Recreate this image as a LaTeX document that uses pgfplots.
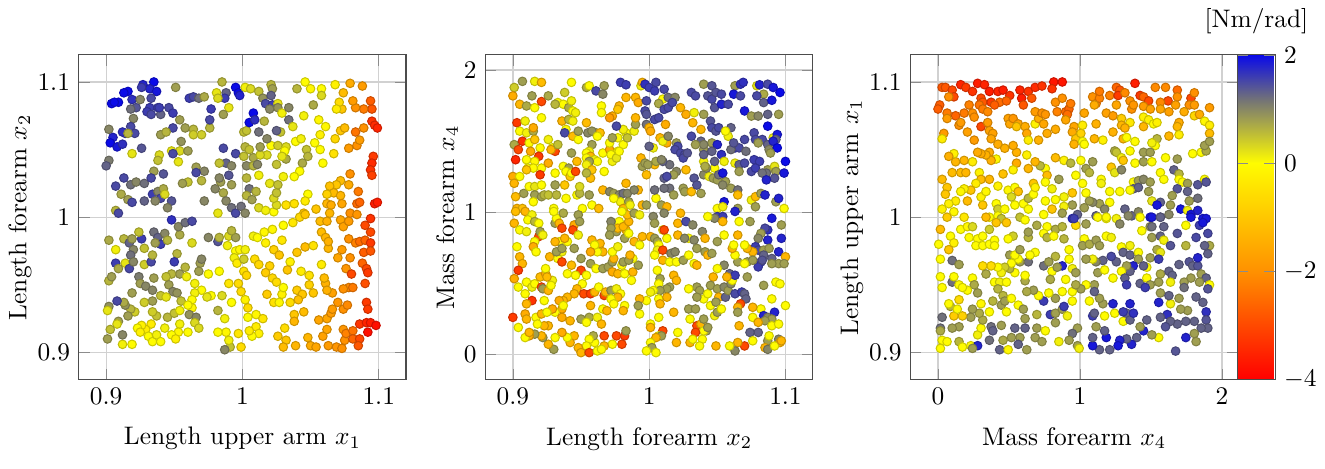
\documentclass[border=0pt]{standalone}
\usepackage{pgfplots}
\usepackage{pgfplotstable}
\pgfplotsset{compat=1.18}
\pgfplotstableread{
x y c
0.935 1.100 2
0.927 1.098 1.8
0.932 1.095 1.8
0.937 1.093 1.9
0.916 1.093 2
0.913 1.092 2
0.926 1.096 1.6
0.919 1.087 1.7
0.909 1.085 2
0.904 1.084 2
0.906 1.085 2
0.925 1.087 1.0
0.933 1.088 1.5
0.922 1.081 1.4
0.932 1.081 1.6
0.938 1.081 1.6
0.918 1.080 1.2
0.930 1.078 1.6
0.933 1.076 1.5
0.920 1.073 1.0
0.918 1.067 1.5
0.914 1.062 1.6
0.912 1.063 1.7
0.902 1.065 1.0
0.905 1.059 1.8
0.903 1.055 2
0.908 1.052 1.9
0.912 1.054 1.7
0.921 1.062 1.5
0.916 1.062 0.6
0.926 1.051 1.4
0.919 1.047 0.2
0.902 1.042 1.1
0.900 1.038 1.3
0.907 1.023 1.5
0.913 1.029 1.5
0.918 1.024 1.2
0.922 1.026 1.0
0.928 1.025 1.2
0.911 1.017 0.7
0.916 1.013 0.8
0.919 1.011 1.5
0.928 1.012 1.3
0.907 1.005 0.6
0.909 1.003 1.5
0.934 1.017 1.6
0.938 1.019 1.0
0.940 1.014 1.5
0.942 1.021 0.7
0.943 1.017 0.3
0.936 1.012 1.0
0.948 1.012 1.4
0.945 1.007 1.0
0.942 1.032 1.4
0.935 1.034 0.8
0.933 1.029 1.5
0.946 1.081 1.5
0.949 1.077 1.6
0.940 1.076 1.3
0.939 1.081 1.6
0.951 1.096 0.8
0.954 1.072 0.8
0.949 1.066 1.5
0.958 1.066 0.8
0.964 1.065 0.6
0.961 1.088 1.6
0.964 1.089 1.5
0.968 1.088 1.2
0.972 1.089 0.7
0.940 1.061 0.8
0.944 1.063 0.6
0.955 1.056 0.9
0.964 1.061 0.4
0.970 1.061 0.4
0.976 1.066 0.6
0.976 1.072 1.5
0.977 1.080 1.6
0.948 1.049 0.2
0.954 1.049 0.3
0.960 1.049 0.8
0.949 1.047 1.5
0.939 1.046 0.3
0.953 1.041 0.2
0.938 1.042 0.5
0.966 1.037 0.8
0.972 1.034 1.0
0.966 1.033 1.5
0.960 1.026 0.5
0.956 1.025 0.8
0.970 1.027 0.6
0.980 1.021 1.0
0.984 1.026 0.8
0.983 1.029 1.0
0.986 1.051 1.5
0.995 1.047 1.5
0.988 1.040 1.3
0.983 1.040 0.5
0.992 1.038 1.0
0.990 1.031 1.4
0.992 1.024 0.8
0.986 1.018 0.7
0.988 1.012 1.0
0.992 1.007 1.2
0.995 1.003 1.5
0.982 1.003 0.2
0.972 1.012 1.0
1.001 1.063 0.5
1.003 1.064 0.5
1.002 1.052 0.6
1.005 1.050 0.5
1.001 1.045 0.5
1.008 1.044 0.7
1.003 1.038 1.0
1.008 1.038 0.6
1.011 1.039 1.0
1.012 1.031 0.1
1.003 1.029 0.6
1.005 1.021 1.2
1.010 1.019 0.6
1.003 1.016 0.6
1.007 1.013 0.8
1.012 1.007 0.3
0.999 1.008 1.2
1.002 1.003 1.0
1.017 1.005 0.1
1.023 1.004 0.0
1.025 1.009 0.3
1.023 1.014 0.3
1.025 1.018 0.5
1.020 1.025 0.2
1.026 1.024 0.5
1.032 1.043 0.7
1.025 1.039 0.5
1.018 1.046 0.3
1.013 1.046 0.3
1.013 1.052 0.8
1.021 1.053 0.0
1.026 1.053 0.4
1.032 1.052 0.3
1.031 1.049 0.0
1.029 1.045 0.2
1.018 1.058 1.0
1.012 1.063 1.2
1.016 1.071 0.6
1.008 1.077 2.0
1.005 1.070 2.0
1.009 1.072 1.7
0.995 1.096 2.0
0.997 1.092 2
0.998 1.090 1.8
0.988 1.092 1.3
0.987 1.088 1.6
0.985 1.100 0.6
0.981 1.092 0.2
0.982 1.088 0.3
0.990 1.081 0.2
0.986 1.076 0.8
1.002 1.096 0.1
1.006 1.095 0.3
1.012 1.093 0.5
1.015 1.088 0.9
1.017 1.084 1.5
1.021 1.098 0.6
1.022 1.095 0.8
1.021 1.090 1.3
1.022 1.083 1.6
1.020 1.080 1.0
1.026 1.084 0.2
1.026 1.081 0.9
1.029 1.077 0.1
1.034 1.081 1.0
1.034 1.072 1.2
1.037 1.067 0.2
1.028 1.063 0.5
1.025 1.064 1.3
1.039 1.056 0.0
1.043 1.058 0.1
1.047 1.050 0.5
1.048 1.045 0.6
1.044 1.040 0.7
1.042 1.034 0.0
1.038 1.030 0.0
1.030 1.030 0.1
1.040 1.095 0.6
1.046 1.100 0.0
1.050 1.095 -0.1
1.058 1.095 0.0
1.058 1.090 0.3
1.052 1.083 0.7
1.045 1.075 0.1
1.056 1.072 -0.1
1.061 1.067 -0.1
1.057 1.061 -0.2
1.053 1.055 0.0
1.057 1.050 0.0
1.059 1.040 0.0
1.067 1.047 -0.5
1.068 1.058 -0.7
1.072 1.064 -1.0
1.075 1.066 -1.2
1.078 1.051 -1.8
1.084 1.053 -2.0
1.086 1.057 -1.8
1.083 1.063 -2.4
1.089 1.066 -2.0
1.095 1.071 -3.3
1.097 1.068 -3.4
1.099 1.066 -3.5
1.095 1.080 -2.8
1.094 1.086 -2.7
1.089 1.080 -2.3
1.083 1.081 -2.0
1.081 1.086 -1.8
1.073 1.080 -1.0
1.071 1.085 -0.6
1.069 1.080 -0.3
1.068 1.098 -0.2
1.079 1.099 -1.5
1.088 1.097 -1.8
1.074 1.092 -1.2
1.096 1.045 -3.2
1.095 1.040 -3.4
1.094 1.035 -3.3
1.095 1.031 -3.1
1.079 1.032 -2.0
1.072 1.027 -1.2
1.069 1.024 -1.0
1.064 1.023 -1.1
1.078 1.024 -1.5
1.067 1.018 -1.2
1.072 1.016 -1.3
1.062 1.017 -0.8
1.085 1.019 -2.3
1.062 1.010 -1.3
1.065 1.009 -1.5
1.073 1.010 -1.6
1.079 1.003 -2.0
1.084 1.010 -2.5
1.086 1.011 -2.6
1.097 1.010 -3.6
1.099 1.011 -3.6
1.048 1.017 0.0
1.046 1.012 -0.3
1.038 1.010 -0.5
1.032 1.009 -0.5
1.045 1.003 -1.0
1.054 1.006 -1.0
1.064 1.003 -1.3
0.902 0.983 0.7
0.907 0.976 0.1
0.913 0.984 0.6
0.917 0.981 1.3
0.919 0.984 0.8
0.926 0.984 1.6
0.924 0.989 0.5
0.920 0.976 1.0
0.918 0.972 1.2
0.907 0.966 1.6
0.914 0.966 0.2
0.917 0.962 1.5
0.920 0.967 1.0
0.909 0.962 0.7
0.902 0.953 0.6
0.904 0.956 0.8
0.924 0.956 1.1
0.928 0.965 0.4
0.933 0.967 1.5
0.934 0.972 0.6
0.928 0.977 0.5
0.935 0.989 1.2
0.938 0.985 1.3
0.940 0.980 1.6
0.943 0.988 1.0
0.936 0.981 0.8
0.945 0.983 0.6
0.948 0.998 1.7
0.954 0.987 0.7
0.953 0.993 1.0
0.958 0.996 1.2
0.963 0.997 1.5
0.963 0.981 0.3
0.952 0.973 0.6
0.950 0.967 1.6
0.958 0.963 0.6
0.954 0.958 0.8
0.948 0.958 0.6
0.944 0.956 0.5
0.935 0.955 0.8
0.925 0.951 0.8
0.929 0.949 1.0
0.934 0.946 1.0
0.940 0.942 0.5
0.946 0.950 0.8
0.949 0.945 1.0
0.952 0.944 0.9
0.944 0.941 0.2
0.959 0.956 0.1
0.965 0.951 0.1
0.969 0.966 0.8
0.968 0.960 0.8
0.970 0.969 1.0
0.975 0.985 1.0
0.982 0.982 1.4
0.983 0.985 0.6
0.990 0.986 0.3
0.995 0.985 0.8
0.992 0.990 0.6
0.989 0.979 0.1
0.995 0.975 0.0
0.998 0.976 -0.1
1.002 0.976 0.1
0.994 0.970 0.1
0.996 0.966 -0.3
1.001 0.969 0.4
0.975 0.958 0.0
0.983 0.960 0.0
0.990 0.951 -0.4
0.997 0.951 -0.6
1.001 0.960 -0.5
1.003 0.957 -0.7
0.999 0.945 -0.6
1.002 0.939 -0.2
1.004 0.933 -0.6
1.004 0.926 0.0
1.010 0.928 -0.1
1.015 0.925 -0.4
1.010 0.919 -0.3
1.012 0.914 -0.2
1.007 0.912 0.0
1.005 0.916 -0.3
0.997 0.914 -0.4
0.999 0.904 -0.6
0.991 0.904 0.5
0.987 0.902 1.0
0.990 0.909 0.1
0.988 0.915 -0.1
0.982 0.915 0.0
0.982 0.931 0.6
0.987 0.925 0.1
0.992 0.937 0.0
0.985 0.942 0.3
0.977 0.942 0.0
0.974 0.941 0.2
0.970 0.946 0.0
0.965 0.944 0.1
0.963 0.939 0.0
0.963 0.933 -0.1
0.961 0.928 0.9
0.966 0.926 1.0
0.965 0.922 0.3
0.968 0.918 0.3
0.960 0.915 0.0
0.954 0.921 0.1
0.953 0.915 -0.1
0.948 0.913 0.0
0.951 0.910 -0.2
0.943 0.918 0.1
0.945 0.926 0.6
0.950 0.929 0.5
0.954 0.931 0.1
0.955 0.938 0.5
0.960 0.935 0.0
0.937 0.927 0.5
0.934 0.930 0.4
0.933 0.921 -0.3
0.929 0.917 -0.3
0.926 0.920 -0.2
0.923 0.918 0.0
0.925 0.915 -0.2
0.931 0.912 0.0
0.934 0.908 0.0
0.937 0.913 0.1
0.940 0.908 0.0
0.919 0.906 0.0
0.912 0.906 0.1
0.921 0.930 0.4
0.918 0.932 0.6
0.916 0.927 0.8
0.909 0.923 0.8
0.908 0.921 0.2
0.903 0.917 0.5
0.901 0.910 0.8
0.912 0.913 1.0
0.914 0.935 0.9
0.913 0.937 0.7
0.908 0.938 1.5
0.902 0.934 0.9
0.901 0.931 0.2
0.919 0.944 0.8
0.934 0.938 0.8
0.928 0.937 0.4
1.022 0.991 -0.1
1.030 0.994 0.0
1.037 0.996 -0.4
1.042 1.000 -0.7
1.046 1.002 -1.0
1.016 0.989 -0.1
1.029 0.983 -0.4
1.008 0.986 0.1
1.011 0.985 0.0
1.017 0.981 -0.2
1.023 0.976 -0.8
1.027 0.972 -1.0
1.009 0.969 -0.6
1.012 0.965 -0.7
1.020 0.964 -0.8
1.017 0.959 -0.9
1.022 0.955 -0.7
1.025 0.952 -0.6
1.018 0.943 -0.9
1.023 0.937 -0.5
1.029 0.943 -0.2
1.030 0.948 0.0
1.027 0.937 -0.1
1.035 0.937 -0.6
1.040 0.946 -0.9
1.044 0.943 -1.0
1.041 0.939 -1.1
1.035 0.967 -0.2
1.033 0.961 -1.0
1.043 0.960 -0.3
1.049 0.957 -0.5
1.040 0.974 -1.0
1.046 0.978 -1.2
1.052 0.979 -0.5
1.038 0.928 -1.0
1.045 0.930 -1.2
1.038 0.923 -1.3
1.031 0.918 -0.6
1.026 0.912 -0.9
1.032 0.909 -1.0
1.030 0.904 -1.2
1.039 0.905 -1.3
1.048 0.911 -1.3
1.050 0.905 -1.5
1.054 0.904 -1.6
1.059 0.912 -1.7
1.062 0.917 -1.6
1.063 0.905 -1.8
1.069 0.904 -1.9
1.073 0.903 -2.0
1.075 0.909 -2.0
1.074 0.917 -1.9
1.076 0.914 -2.2
1.081 0.916 -2.4
1.081 0.910 -2.6
1.086 0.910 -3.0
1.085 0.905 -2.8
1.086 0.921 -3.3
1.091 0.922 -3.5
1.094 0.922 -3.6
1.098 0.920 -3.8
1.092 0.915 -3.8
1.056 0.924 -1.6
1.062 0.925 -1.6
1.065 0.929 -1.8
1.066 0.932 -1.8
1.074 0.932 -2.0
1.070 0.937 -1.9
1.066 0.944 -1.7
1.077 0.935 -2.1
1.078 0.948 -2.1
1.081 0.948 -2.3
1.074 0.947 -2.0
1.090 0.951 -2.9
1.091 0.937 -3.2
1.092 0.932 -3.2
1.061 0.951 -1.4
1.062 0.946 -1.4
1.060 0.955 -1.2
1.049 0.950 -0.8
1.052 0.944 -1.0
1.058 0.965 -0.3
1.063 0.977 -1.3
1.058 0.989 -1.2
1.061 0.985 -1.3
1.063 0.982 -1.4
1.057 0.997 -1.2
1.062 0.997 -1.4
1.072 0.998 -1.6
1.074 0.993 -1.7
1.078 0.997 -1.8
1.084 1.002 -1.9
1.078 0.984 -2.0
1.083 0.981 -2.2
1.086 0.982 -2.5
1.090 0.983 -2.6
1.094 0.981 -3.2
1.094 0.989 -3.0
1.090 0.994 -3.0
1.089 0.974 -2.7
1.094 0.975 -2.8
1.073 0.976 -1.8
1.079 0.970 -2.0
1.070 0.970 -1.6
1.076 0.962 -1.9
1.088 0.966 -2.6
1.091 0.962 -3.0
1.092 0.959 -3.2
1.080 0.958 -3.0
1.094 0.999 -3.3
}\dataA
\pgfplotstableread{
x y c
0.901 1.877 0.4
0.907 1.920 0.8
0.916 1.920 0.1
0.921 1.913 -1.2
0.900 1.818 -1.5
0.914 1.818 0.8
0.905 1.759 -1.3
0.910 1.747 0.7
0.916 1.735 0.0
0.921 1.778 -3.0
0.926 1.818 0.7
0.921 1.664 0.0
0.903 1.629 -3.2
0.909 1.641 0.1
0.905 1.570 0.0
0.910 1.558 0.1
0.915 1.570 0.7
0.915 1.594 -1.5
0.901 1.475 0.7
0.907 1.499 -3.3
0.912 1.487 0.0
0.916 1.511 -1.0
0.904 1.440 -3.0
0.913 1.428 -1.5
0.920 1.452 0.0
0.926 1.511 0.1
0.919 1.393 -3.2
0.902 1.369 -3.5
0.910 1.369 0.0
0.916 1.357 -0.1
0.911 1.310 0.0
0.915 1.310 0.0
0.921 1.310 0.0
0.910 1.298 -1.0
0.920 1.263 -3.2
0.900 1.251 -1.5
0.905 1.251 0.0
0.901 1.203 -1.3
0.908 1.132 0.8
0.912 1.180 0.0
0.916 1.180 0.2
0.921 1.191 0.0
0.916 1.121 0.8
0.902 1.109 -1.2
0.903 1.026 -1.3
0.907 1.026 -1.1
0.915 1.073 0.0
0.921 1.109 0.8
0.923 1.121 0.6
0.926 1.121 0.5
0.930 1.026 0.0
0.926 1.345 -1.5
0.929 1.452 0.0
0.931 1.428 -3.0
0.928 1.440 -1.3
0.933 1.475 0.5
0.931 1.275 0.0
0.931 1.191 0.8
0.932 1.121 0.6
0.939 1.097 0.0
0.938 1.191 -1.0
0.937 1.322 0.0
0.941 1.310 0.8
0.939 1.286 0.0
0.942 1.251 -1.0
0.943 1.275 0.0
0.946 1.286 -3.0
0.943 1.913 0.0
0.938 1.842 0.4
0.933 1.771 0.0
0.937 1.759 0.0
0.931 1.759 0.6
0.941 1.735 0.7
0.943 1.783 0.1
0.944 1.712 0.0
0.946 1.700 0.1
0.936 1.641 -1.3
0.941 1.652 0.6
0.944 1.641 0.1
0.939 1.582 0.0
0.938 1.558 1.5
0.944 1.534 -1.2
0.948 1.511 0.0
0.948 1.570 0.8
0.943 1.416 0.8
0.947 1.357 -1.2
0.954 1.629 -1.2
0.955 1.558 1.0
0.954 1.877 0.7
0.956 1.889 0.0
0.961 1.853 1.5
0.967 1.889 0.8
0.966 1.830 1.0
0.965 1.747 0.0
0.965 1.700 0.0
0.961 1.558 0.8
0.958 1.570 0.9
0.964 1.558 -1.2
0.962 1.534 0.0
0.958 1.475 0.8
0.956 1.428 0.1
0.954 1.416 0.0
0.957 1.393 -1.3
0.954 1.381 0.0
0.960 1.369 0.1
0.962 1.357 0.0
0.956 1.357 0.8
0.954 1.334 0.1
0.958 1.298 -1.0
0.966 1.416 0.0
0.971 1.440 -1.5
0.967 1.286 0.0
0.973 1.357 0.1
0.977 1.428 0.0
0.972 1.405 0.0
0.976 1.381 0.2
0.981 1.475 0.0
0.978 1.428 0.0
0.983 1.558 0.0
0.981 1.582 0.1
0.977 1.523 0.0
0.971 1.487 0.0
0.973 1.523 0.8
0.984 1.523 0.5
0.989 1.570 0.1
0.990 1.617 0.8
0.976 1.605 1.5
0.973 1.676 -1.5
0.971 1.664 -1.8
0.978 1.747 -1.3
0.977 1.723 -1.0
0.983 1.807 -1.3
0.990 1.807 -1.3
0.992 1.771 -1.5
0.990 1.664 -1.3
0.979 1.913 1.6
0.983 1.896 1.6
0.994 1.889 0.1
0.995 1.913 -1.3
0.997 1.900 1.7
1.000 1.877 1.6
1.005 1.913 1.5
1.004 1.853 1.6
1.011 1.865 1.5
1.010 1.795 0.0
1.007 1.764 0.7
1.014 1.807 1.2
1.019 1.807 1.0
0.998 1.783 1.5
0.997 1.712 1.5
0.998 1.688 1.4
1.004 1.652 1.5
1.007 1.664 1.5
1.011 1.723 1.5
1.014 1.735 1.5
1.017 1.771 1.5
0.998 1.617 1.2
1.000 1.594 -1.3
1.001 1.570 -1.5
1.012 1.617 -1.5
1.008 1.523 -1.3
1.013 1.487 -1.5
1.010 1.499 0.1
1.014 1.534 1.0
1.020 1.487 0.8
1.023 1.735 -1.3
1.027 1.688 -1.5
1.032 1.629 -1.3
1.033 1.700 0.1
1.040 1.688 0.8
1.031 1.842 1.5
1.034 1.818 1.5
1.040 1.900 0.8
1.046 1.889 1.4
1.043 1.818 1.4
1.046 1.795 1.5
1.048 1.735 1.4
1.049 1.842 1.4
1.053 1.830 1.5
1.053 1.759 1.8
1.058 1.759 1.5
1.063 1.889 0.8
1.062 1.830 1.9
1.067 1.818 1.5
1.067 1.900 1.7
1.069 1.913 1.7
1.079 1.889 0.2
1.081 1.896 1.8
1.084 1.830 0.7
1.087 1.900 1.5
1.091 1.877 1.9
1.096 1.842 2.0
1.079 1.818 1.5
1.070 1.712 1.9
1.075 1.676 0.8
1.080 1.676 1.0
1.084 1.771 1.3
1.090 1.787 1.9
1.087 1.688 1.3
1.095 1.688 0.8
1.045 1.641 1.4
1.046 1.594 1.5
1.049 1.570 1.4
1.051 1.594 1.5
1.060 1.594 1.3
1.038 1.582 -1.3
1.038 1.499 1.3
1.040 1.440 0.8
1.046 1.487 0.8
1.040 1.475 1.0
1.031 1.534 1.5
1.021 1.463 1.5
1.019 1.440 1.5
1.023 1.416 1.5
1.026 1.405 1.5
1.025 1.381 1.5
1.028 1.416 1.4
1.027 1.298 -1.2
1.020 1.286 1.0
1.018 1.263 0.8
1.015 1.334 1.2
1.010 1.357 1.3
1.011 1.239 1.3
1.013 1.251 1.5
1.004 1.334 -1.2
0.998 1.263 -1.2
1.003 1.452 0.1
1.000 1.463 1.3
0.995 1.322 0.8
0.994 1.381 -1.3
0.997 1.345 0.8
0.999 1.334 0.8
1.005 1.357 0.7
1.009 1.369 1.0
0.992 1.156 -1.3
0.995 1.050 -1.3
0.998 1.050 0.8
1.005 1.097 0.0
1.009 1.050 0.8
1.013 1.038 -1.3
1.015 1.168 1.2
1.025 1.168 0.8
1.026 1.144 0.8
1.031 1.144 -1.2
1.038 1.132 0.8
1.033 1.239 1.4
1.035 1.191 1.4
1.040 1.263 1.0
1.044 1.251 0.1
1.047 1.239 0.8
1.050 1.227 0.8
1.048 1.310 0.0
1.040 1.357 0.1
1.048 1.357 1.3
1.051 1.263 1.2
1.056 1.215 0.8
1.054 1.191 1.0
1.060 1.168 0.8
1.065 1.156 1.2
1.065 1.121 -1.2
1.055 1.073 1.9
1.050 1.026 0.0
1.054 1.038 0.1
1.065 1.026 0.8
1.075 1.085 0.1
1.078 1.109 -1.2
1.082 1.132 0.8
1.078 1.038 0.8
1.085 1.121 1.8
1.093 1.073 0.8
1.095 1.097 1.8
1.099 1.026 0.0
1.054 1.275 1.9
1.063 1.345 0.1
1.066 1.334 1.3
1.070 1.345 1.5
1.077 1.369 1.6
1.081 1.357 1.6
1.075 1.286 1.5
1.078 1.310 1.6
1.087 1.298 0.8
1.086 1.275 1.2
1.083 1.275 1.2
1.092 1.322 0.2
1.093 1.286 0.8
1.099 1.275 1.9
1.100 1.357 2.0
1.092 1.239 1.4
1.086 1.227 1.8
1.063 1.452 1.7
1.066 1.452 1.5
1.070 1.511 1.5
1.077 1.558 1.5
1.078 1.511 1.5
1.083 1.511 1.5
1.080 1.487 0.8
1.087 1.475 1.3
1.088 1.440 1.0
1.087 1.605 2.0
1.091 1.523 0.1
1.094 1.546 1.9
1.093 1.511 1.3
1.091 1.499 1.8
1.094 1.452 2.0
1.089 1.416 0.8
1.071 1.428 1.2
1.060 1.440 1.2
1.058 1.534 0.1
1.056 1.570 0.0
1.050 1.475 1.8
1.053 1.405 1.7
1.046 1.428 1.3
1.055 1.357 0.1
1.042 1.310 1.0
1.066 1.286 0.8
1.062 1.487 1.4
1.041 1.322 0.7
1.034 1.475 0.8
1.040 1.405 1.3
1.004 1.156 1.2
1.011 1.168 1.2
1.018 1.121 0.8
0.966 1.156 -1.3
0.971 1.144 1.0
0.974 1.132 0.8
0.978 1.121 1.0
0.981 1.132 1.2
0.984 1.132 1.0
0.989 1.156 1.0
0.983 1.203 -1.3
0.979 1.073 0.1
0.985 1.073 0.8
0.974 1.097 0.0
0.981 1.026 -1.3
0.986 1.050 0.1
0.956 1.121 0.8
0.958 1.050 0.0
0.963 1.026 -1.2
0.951 1.026 0.0
0.947 1.121 0.0
0.949 1.132 0.6
0.957 1.239 -1.2
0.954 1.275 0.6
0.949 1.180 0.3
0.902 1.005 -1.2
0.909 1.005 -1.3
0.914 0.981 0.1
0.911 0.946 0.0
0.901 0.922 -1.3
0.905 0.875 0.0
0.910 0.863 0.1
0.916 0.934 0.6
0.919 0.922 0.0
0.919 0.828 -3.0
0.920 0.863 0.8
0.916 0.793 0.0
0.922 0.839 0.1
0.903 0.757 0.0
0.905 0.686 -1.3
0.907 0.638 -1.3
0.915 0.757 -1.5
0.917 0.721 0.0
0.904 0.591 -3.2
0.901 0.532 -1.5
0.904 0.473 0.0
0.910 0.508 0.0
0.914 0.473 0.1
0.916 0.496 0.0
0.920 0.544 -1.2
0.924 0.567 -1.5
0.924 0.603 0.0
0.921 0.473 -3.0
0.922 0.461 0.8
0.909 0.426 0.0
0.914 0.378 -3.3
0.910 0.355 -1.3
0.900 0.260 -3.2
0.909 0.284 -1.5
0.910 0.248 -1.3
0.917 0.260 0.0
0.923 0.378 0.0
0.926 0.449 -1.3
0.929 0.520 0.1
0.928 0.485 0.0
0.925 0.544 -1.2
0.927 0.686 -1.3
0.933 0.674 0.0
0.936 0.721 0.1
0.932 0.721 0.8
0.934 0.792 0.0
0.931 0.792 -1.3
0.936 0.650 -3.0
0.936 0.745 0.8
0.940 0.793 0.0
0.938 0.816 -1.3
0.931 0.922 0.8
0.932 0.957 0.0
0.930 1.005 0.0
0.937 0.993 0.7
0.934 0.922 -1.3
0.936 0.887 -3.0
0.945 0.910 -1.5
0.948 0.981 0.8
0.949 0.934 0.8
0.944 0.875 -3.0
0.948 0.839 0.1
0.945 0.745 0.8
0.950 0.674 0.8
0.943 0.627 -1.2
0.950 0.591 -3.0
0.946 0.556 0.0
0.940 0.567 0.0
0.954 0.556 0.0
0.951 0.496 0.0
0.947 0.461 -1.3
0.945 0.426 -1.3
0.940 0.402 -1.3
0.937 0.378 -1.3
0.934 0.378 -1.5
0.936 0.319 -1.5
0.937 0.343 0.0
0.931 0.296 0.0
0.929 0.319 -1.5
0.936 0.260 -1.5
0.942 0.236 -1.3
0.950 0.248 0.8
0.956 0.260 0.7
0.954 0.225 0.0
0.952 0.426 -3.0
0.957 0.426 -3.2
0.960 0.438 -1.3
0.957 0.343 -1.3
0.963 0.473 0.0
0.967 0.414 -3.0
0.968 0.438 -1.3
0.972 0.449 0.8
0.976 0.461 0.1
0.979 0.426 0.0
0.977 0.402 -1.3
0.972 0.390 0.0
0.966 0.319 0.0
0.969 0.307 -1.3
0.974 0.355 0.0
0.982 0.343 0.0
0.981 0.307 -1.3
0.962 0.260 0.1
0.965 0.213 -1.3
0.967 0.130 -3.0
0.976 0.130 -3.0
0.982 0.130 -3.2
0.983 0.165 0.8
0.980 0.071 -3.0
0.973 0.071 0.0
0.967 0.059 -1.3
0.960 0.083 0.0
0.959 0.130 0.7
0.956 0.106 0.0
0.954 0.059 0.0
0.948 0.047 -1.3
0.950 0.012 -1.3
0.956 0.012 -3.0
0.962 0.024 0.0
0.965 0.035 0.0
0.945 0.130 -1.3
0.942 0.083 -1.3
0.940 0.118 0.0
0.936 0.154 -1.5
0.931 0.118 0.0
0.930 0.035 0.8
0.926 0.071 -1.3
0.922 0.118 0.8
0.921 0.130 -1.3
0.916 0.142 0.8
0.912 0.130 -1.5
0.909 0.118 0.0
0.912 0.154 -1.3
0.904 0.189 0.0
0.926 0.201 -1.3
0.923 0.201 -1.3
0.918 0.213 0.0
0.921 0.284 -1.3
0.925 0.296 0.0
0.957 0.638 0.8
0.961 0.603 0.0
0.966 0.603 0.8
0.970 0.615 0.8
0.973 0.650 0.8
0.974 0.674 -1.3
0.973 0.580 -1.5
0.977 0.567 -1.3
0.980 0.627 0.0
0.981 0.650 0.8
0.982 0.567 0.0
0.988 0.579 -1.3
0.987 0.520 0.0
0.992 0.627 0.8
0.988 0.674 0.0
0.985 0.662 0.8
0.966 0.721 -1.3
0.962 0.721 0.0
0.964 0.780 -1.3
0.958 0.804 -1.3
0.960 0.769 0.0
0.957 0.721 -1.5
0.973 0.721 0.0
0.977 0.757 0.1
0.982 0.816 0.8
0.983 0.875 -1.3
0.976 0.863 0.8
0.978 0.934 0.0
0.977 0.887 -1.2
0.981 0.898 -1.3
0.985 0.851 0.0
0.989 0.793 -1.3
0.993 0.769 0.0
0.995 0.828 -1.3
0.986 0.698 -1.3
0.985 0.934 -1.3
0.984 0.981 -1.2
0.989 0.993 0.8
0.972 0.934 1.0
0.972 0.887 0.8
0.971 0.839 0.8
0.980 1.005 0.0
0.993 0.981 0.1
1.003 0.969 1.0
1.004 0.922 0.8
1.001 0.828 -1.3
1.004 0.816 0.8
1.006 0.793 0.8
1.007 0.769 0.0
1.006 0.733 0.1
1.004 0.698 0.0
1.010 0.733 -3.0
1.011 0.993 1.0
1.010 0.875 0.0
1.013 0.816 0.0
1.021 0.922 -1.3
1.021 0.839 -1.3
1.011 0.875 -3.0
1.016 0.710 1.0
1.019 0.721 1.0
1.010 0.662 -1.3
1.015 0.650 0.0
1.020 0.650 0.0
1.025 0.662 0.8
1.029 0.698 0.0
1.029 0.816 0.0
1.026 0.816 1.0
1.023 0.993 -1.3
1.027 0.934 1.5
1.032 0.910 1.0
1.033 0.804 1.0
1.035 0.745 0.8
1.039 0.863 1.0
1.041 0.721 0.8
1.043 0.698 -1.3
1.046 0.710 0.8
1.041 0.816 -1.3
1.033 0.638 0.0
1.035 0.627 -1.3
1.006 0.591 0.0
1.008 0.532 0.8
1.007 0.496 0.0
1.018 0.556 -1.3
1.020 0.520 -1.3
1.015 0.473 0.8
1.013 0.461 0.8
1.008 0.449 0.8
1.003 0.449 0.0
1.001 0.438 0.1
0.998 0.378 0.0
1.007 0.390 0.0
1.008 0.355 -1.3
1.013 0.402 -1.3
0.993 0.390 -1.3
0.993 0.284 0.0
0.992 0.343 0.8
1.001 0.213 0.0
1.001 0.189 -1.3
1.007 0.260 0.0
1.018 0.296 -1.3
1.021 0.154 0.0
1.010 0.165 -3.0
1.007 0.130 0.0
1.009 0.130 0.8
1.005 0.118 -1.3
1.001 0.083 0.0
1.002 0.047 0.8
0.998 0.024 0.0
1.005 0.012 0.0
1.020 0.083 -1.3
1.029 0.319 0.8
1.034 0.319 0.8
1.030 0.248 0.0
1.035 0.201 -3.0
1.038 0.213 -1.3
1.040 0.248 0.8
1.042 0.165 0.8
1.039 0.106 0.0
1.030 0.083 -1.3
1.037 0.059 0.0
1.040 0.390 0.0
1.035 0.473 0.8
1.037 0.449 0.8
1.029 0.461 0.0
1.035 0.402 0.8
1.043 0.426 0.0
1.045 0.343 0.0
1.047 0.544 -1.3
1.045 0.485 0.8
1.050 0.461 0.8
1.055 0.473 1.0
1.051 0.402 -1.3
1.056 0.402 1.3
1.049 0.367 0.8
1.048 0.272 0.1
1.050 0.296 0.8
1.053 0.319 0.0
1.058 0.449 0.8
1.060 0.496 1.0
1.061 0.520 0.0
1.059 0.567 1.3
1.063 0.556 1.6
1.057 0.544 -1.3
1.055 0.627 1.0
1.050 0.603 0.0
1.063 0.426 1.5
1.068 0.438 1.6
1.070 0.426 1.3
1.071 0.390 1.3
1.072 0.544 0.8
1.072 0.650 0.8
1.065 0.650 0.8
1.063 0.698 0.0
1.061 0.745 -1.3
1.062 0.769 0.0
1.065 0.839 -1.3
1.055 0.839 0.0
1.050 0.793 0.8
1.050 0.969 1.6
1.054 0.969 1.6
1.048 0.957 1.0
1.054 0.934 -1.3
1.043 0.969 0.0
1.066 0.934 0.0
1.074 0.934 0.8
1.063 1.005 1.8
1.090 0.957 1.9
1.097 0.910 0.8
1.097 0.816 1.8
1.095 0.721 1.8
1.087 0.804 1.8
1.087 0.875 1.7
1.085 0.887 1.5
1.082 0.851 0.8
1.080 0.816 1.0
1.078 0.757 1.6
1.080 0.733 1.5
1.084 0.733 0.8
1.088 0.745 0.8
1.084 0.698 1.3
1.082 0.650 1.6
1.080 0.615 1.6
1.083 0.662 1.4
1.090 0.674 1.3
1.100 0.686 -1.3
1.095 0.638 0.8
1.099 0.638 0.8
1.090 0.638 0.8
1.076 0.721 -1.3
1.072 0.745 -1.3
1.070 0.769 0.0
1.076 0.662 0.8
1.070 0.638 0.0
1.084 0.485 0.8
1.093 0.508 0.0
1.096 0.496 0.0
1.090 0.390 0.0
1.082 0.319 0.0
1.076 0.331 -1.3
1.084 0.272 1.8
1.087 0.260 1.0
1.092 0.296 1.8
1.090 0.248 0.8
1.085 0.236 0.8
1.076 0.260 0.0
1.080 0.225 -1.3
1.080 0.154 1.3
1.090 0.201 0.0
1.095 0.213 0.0
1.100 0.343 0.0
1.067 0.355 -3.0
1.065 0.331 -1.3
1.065 0.296 0.8
1.066 0.201 -1.3
1.074 0.154 1.3
1.076 0.095 0.0
1.070 0.059 -3.0
1.065 0.083 -1.3
1.063 0.024 1.0
1.059 0.059 0.0
1.087 0.095 0.8
1.088 0.130 0.0
1.085 0.047 -1.3
1.087 0.035 1.0
1.095 0.106 1.0
1.096 0.083 -1.3
1.092 0.059 0.0
1.097 0.095 -1.3
1.049 0.059 -1.3
1.040 0.165 0.0
1.043 0.189 0.8
1.034 0.154 -3.0
1.032 0.106 0.0
}\dataB
\pgfplotstableread{
x y c
0.029 1.096 -2.8
0.052 1.096 -2.8
0.100 1.094 -3.0
0.160 1.098 -3.5
0.196 1.096 -3.2
0.243 1.093 -3.3
0.279 1.099 -3.6
0.327 1.098 -3.5
0.362 1.093 -3.6
0.422 1.093 -3.5
0.458 1.094 -3.6
0.505 1.090 -3.3
0.577 1.094 -3.5
0.636 1.093 -3.3
0.684 1.096 -3.4
0.732 1.097 -3.3
0.815 1.100 -3.7
0.875 1.100 -3.7
0.803 1.095 -3.3
0.589 1.088 -3.6
0.660 1.088 -2.8
0.601 1.083 -2.8
0.303 1.088 -3.0
0.315 1.085 -2.8
0.374 1.085 -3.2
0.434 1.085 -2.5
0.398 1.083 -2.7
0.482 1.086 -2.6
0.112 1.089 -3.0
0.076 1.089 -2.0
0.012 1.083 -2.7
0.000 1.080 -2.7
0.064 1.077 -2.3
0.124 1.075 -2.6
0.219 1.083 -2.2
0.184 1.077 -2.3
0.291 1.083 -2.4
0.315 1.080 -2.3
0.350 1.078 -2.1
0.243 1.077 -2.0
0.255 1.074 -2.0
0.303 1.067 -3.0
0.148 1.068 -2.0
0.064 1.073 -1.8
0.041 1.062 -1.8
0.029 1.058 -0.3
0.160 1.070 -1.8
0.207 1.063 -1.7
0.255 1.057 -1.8
0.350 1.070 -1.8
0.362 1.064 -1.7
0.386 1.062 -1.7
0.374 1.058 -1.6
0.422 1.054 -1.5
0.494 1.073 -1.7
0.505 1.069 -1.6
0.529 1.073 -1.9
0.565 1.069 -1.7
0.553 1.067 -1.0
0.613 1.067 -1.5
0.625 1.062 -1.6
0.684 1.069 -0.2
0.708 1.073 -1.5
0.684 1.078 -1.8
0.732 1.077 -2.0
0.756 1.076 -1.9
0.744 1.069 -1.6
0.768 1.062 -1.5
0.708 1.057 -1.4
0.636 1.057 -0.3
0.827 1.085 -2.0
0.839 1.078 -2.2
0.875 1.088 -2.0
0.899 1.078 -2.5
0.922 1.080 -2.6
0.934 1.084 -2.3
0.911 1.076 -2.5
0.827 1.065 -1.5
0.899 1.072 -1.6
0.958 1.067 -1.6
0.946 1.063 -1.5
0.970 1.058 -1.0
1.006 1.062 -0.8
1.018 1.068 -0.3
1.030 1.077 -1.6
0.958 1.054 -1.4
1.018 1.056 0.0
1.030 1.054 0.0
1.089 1.089 -2.0
1.113 1.084 -2.2
1.137 1.088 -2.2
1.137 1.093 -2.3
1.209 1.090 -2.2
1.256 1.096 -2.6
1.280 1.094 -2.8
1.268 1.090 -3.2
1.316 1.092 -2.1
1.387 1.099 -3.6
1.423 1.090 -3.2
1.447 1.089 -2.6
1.483 1.086 -3.0
1.530 1.096 -2.1
1.602 1.096 -2.1
1.685 1.094 -2.5
1.685 1.089 -2.0
1.620 1.086 -3.0
1.566 1.085 -2.1
1.781 1.088 -3.0
1.805 1.092 -2.0
1.769 1.083 -2.0
1.805 1.083 -1.8
1.912 1.081 -1.8
1.101 1.083 -1.5
1.185 1.077 -1.7
1.256 1.083 -1.6
1.352 1.086 -2.0
1.364 1.080 -2.0
1.376 1.083 -1.9
1.447 1.082 -1.8
1.495 1.080 -1.7
1.566 1.080 -1.6
1.626 1.078 -1.7
1.673 1.083 -1.7
1.733 1.078 -1.5
1.805 1.075 -0.7
1.841 1.076 -1.5
1.877 1.071 -0.1
1.912 1.068 -0.3
1.912 1.062 -1.2
1.113 1.069 -1.4
1.232 1.075 -1.8
1.292 1.073 -0.9
1.292 1.068 -1.3
1.352 1.070 -0.4
1.316 1.066 -1.4
1.304 1.058 -1.3
1.232 1.063 -1.4
1.447 1.074 -0.2
1.483 1.072 -0.2
1.518 1.069 0.0
1.542 1.070 -0.2
1.447 1.067 -1.3
1.697 1.070 -1.5
1.685 1.067 -1.3
1.697 1.061 -0.3
1.626 1.060 -1.3
1.542 1.058 0.6
1.530 1.053 0.0
1.506 1.055 0.1
1.387 1.056 0.0
1.352 1.049 0.0
1.328 1.059 0.0
1.161 1.057 -0.2
1.101 1.058 -1.3
1.244 1.049 0.7
1.256 1.048 0.5
1.292 1.044 0.1
1.304 1.042 -1.0
1.387 1.040 0.0
1.447 1.048 0.8
1.494 1.048 0.8
1.447 1.041 0.8
1.506 1.041 0.0
1.602 1.044 0.0
1.685 1.043 0.8
1.793 1.047 0.0
1.853 1.048 0.0
1.888 1.049 0.7
1.877 1.053 0.8
1.912 1.056 0.8
1.089 1.041 0.8
1.042 1.036 0.8
1.066 1.033 0.6
1.220 1.037 -1.0
1.244 1.033 0.2
1.292 1.035 1.0
1.149 1.028 0.0
1.149 1.025 0.1
1.376 1.026 0.0
1.411 1.027 0.8
1.447 1.028 1.0
1.494 1.026 0.8
1.566 1.033 0.0
1.590 1.028 0.0
1.661 1.035 1.3
1.697 1.032 0.6
1.697 1.028 0.0
1.721 1.026 0.0
1.757 1.025 0.8
1.829 1.024 1.4
1.877 1.028 0.0
1.888 1.026 1.4
1.376 1.021 1.3
1.411 1.022 1.3
1.483 1.019 0.8
1.352 1.020 0.0
1.280 1.019 0.0
1.209 1.019 0.0
1.685 1.021 1.4
1.649 1.016 0.8
1.757 1.019 1.3
1.769 1.012 0.8
1.829 1.014 1.2
1.566 1.011 1.3
1.506 1.012 0.2
1.542 1.009 1.9
1.637 1.009 0.8
1.709 1.006 1.9
1.757 1.005 0.1
1.781 1.002 1.9
1.829 1.005 1.8
1.865 0.999 1.9
1.888 0.999 1.9
1.494 1.000 1.9
1.566 1.000 1.3
1.626 1.002 1.0
1.316 1.006 1.3
1.364 1.001 1.3
1.411 1.004 1.0
1.209 1.011 0.0
1.137 1.010 0.8
1.089 1.011 1.0
1.066 1.012 0.8
1.173 1.006 1.0
1.113 1.001 1.3
1.185 0.999 0.0
1.256 0.999 0.1
1.030 1.007 0.8
0.982 1.002 1.3
0.946 0.999 1.8
1.042 1.018 0.0
1.018 1.025 0.0
0.946 1.018 -1.0
0.970 1.031 0.0
0.946 1.009 0.8
0.887 1.015 0.1
0.851 1.028 0.8
0.887 1.042 -0.2
0.934 1.040 0.6
1.006 1.042 0.0
0.827 1.044 -1.2
0.756 1.036 0.0
0.768 1.031 -1.2
0.756 1.026 0.0
0.803 1.021 0.1
0.827 1.013 0.0
0.887 1.008 0.1
0.875 1.003 0.8
0.803 1.006 -1.0
0.756 1.012 0.0
0.744 1.002 0.0
0.720 1.038 0.6
0.684 1.041 -1.3
0.636 1.036 -1.3
0.625 1.046 -0.2
0.553 1.040 -1.5
0.529 1.035 -0.2
0.553 1.048 -1.4
0.529 1.053 -1.5
0.470 1.051 -1.4
0.410 1.043 -0.1
0.362 1.048 -1.5
0.374 1.042 -1.4
0.338 1.046 -1.4
0.303 1.047 -1.5
0.279 1.048 -1.5
0.243 1.041 -0.3
0.184 1.042 -1.3
0.124 1.041 -1.3
0.112 1.047 -0.2
0.076 1.045 -1.4
0.100 1.033 -1.2
0.029 1.028 -1.2
0.064 1.022 -1.0
0.160 1.033 -1.2
0.196 1.033 -1.3
0.291 1.033 -0.2
0.303 1.028 -1.2
0.362 1.028 -1.3
0.267 1.025 -0.3
0.231 1.020 -1.0
0.184 1.021 -0.2
0.160 1.019 -0.1
0.052 1.017 -1.0
0.124 1.012 -0.3
0.207 1.012 -1.2
0.076 1.010 -0.2
0.029 1.006 -0.2
0.112 1.004 -0.1
0.064 1.000 -0.9
0.184 1.000 -0.4
0.315 1.009 -1.0
0.303 1.015 -0.2
0.338 1.019 -0.1
0.422 1.023 -0.2
0.458 1.032 -1.1
0.494 1.020 -0.1
0.541 1.022 0.0
0.565 1.019 -1.1
0.517 1.015 0.3
0.410 1.010 0.0
0.422 1.006 0.4
0.470 1.006 0.0
0.541 1.009 0.0
0.601 1.010 0.0
0.577 1.000 0.5
0.636 1.014 0.6
0.672 1.017 0.0
0.672 1.025 -1.0
0.684 1.022 -0.2
0.636 1.006 0.0
0.362 1.000 0.0
0.422 1.001 0.0
0.446 0.999 0.5
0.017 0.991 -1.2
0.005 0.980 0.0
0.088 0.986 0.0
0.112 0.981 -0.2
0.160 0.991 0.0
0.207 0.993 -0.1
0.243 0.993 0.3
0.219 0.985 0.0
0.279 0.984 0.0
0.315 0.986 0.0
0.362 0.991 0.4
0.410 0.996 -1.0
0.482 0.996 -1.0
0.529 0.986 0.4
0.338 1.000 -1.2
0.076 0.976 -1.0
0.267 0.979 0.0
0.315 0.979 0.0
0.362 0.980 0.0
0.398 0.983 0.0
0.398 0.979 0.0
0.494 0.984 0.0
0.613 0.998 0.0
0.636 0.985 0.6
0.636 0.989 0.8
0.696 0.994 0.7
0.768 0.993 0.0
0.744 0.988 0.0
0.768 0.985 0.6
0.827 0.991 0.7
0.875 0.993 0.6
0.815 0.986 0.0
0.887 0.984 0.6
0.970 0.994 -0.6
0.958 0.999 1.6
1.042 0.995 0.8
1.125 1.000 0.0
1.185 1.000 0.0
1.030 0.984 0.0
1.018 0.979 0.8
1.066 0.980 0.7
1.113 0.983 0.8
1.137 0.979 0.8
1.185 0.986 0.0
1.220 0.985 0.1
1.280 0.995 1.0
1.292 0.978 0.0
1.352 0.979 0.1
1.304 0.974 1.3
1.352 0.972 1.3
1.340 1.001 1.0
1.423 1.000 0.0
1.435 0.990 0.0
1.494 0.993 0.8
1.506 0.985 0.8
1.506 1.000 1.9
1.566 1.000 1.3
1.506 0.993 1.2
1.566 0.986 1.3
1.590 0.983 0.1
1.590 0.993 1.3
1.685 0.988 1.4
1.745 0.994 0.0
1.781 1.000 1.9
1.841 0.994 1.6
1.865 0.996 1.9
1.900 0.988 1.5
1.912 0.979 0.7
1.817 0.985 1.5
1.745 0.979 0.6
1.637 0.979 1.4
1.542 0.976 0.7
1.566 0.974 0.2
1.494 0.970 0.8
1.554 0.969 1.6
1.411 0.974 0.0
1.411 0.969 0.8
1.470 0.963 0.0
1.447 0.964 1.3
1.375 0.964 1.8
1.352 0.960 1.3
1.328 0.964 0.8
1.256 0.967 1.3
1.220 0.971 1.5
1.161 0.968 1.3
1.113 0.967 1.0
1.089 0.969 0.1
1.042 0.969 0.8
1.125 0.959 0.8
1.173 0.961 0.0
1.232 0.955 0.0
1.292 0.960 0.0
1.316 0.955 1.3
1.328 0.950 1.6
1.423 0.951 1.3
1.470 0.955 0.0
1.494 0.950 0.8
1.459 0.948 1.6
1.554 0.952 0.8
1.566 0.958 0.7
1.626 0.960 1.3
1.649 0.957 1.3
1.637 0.952 0.1
1.697 0.965 1.3
1.769 0.967 1.4
1.793 0.964 1.3
1.829 0.964 1.4
1.829 0.970 1.8
1.900 0.973 1.3
1.877 0.979 1.3
1.853 0.958 0.8
1.888 0.955 1.3
1.912 0.950 0.0
1.900 0.947 1.4
1.841 0.952 0.8
1.781 0.955 0.8
1.733 0.952 0.8
1.733 0.948 1.2
1.817 0.941 1.3
1.865 0.937 1.3
1.888 0.930 1.7
1.888 0.924 1.4
1.900 0.918 1.3
1.853 0.918 1.3
1.805 0.923 1.3
1.757 0.931 0.8
1.709 0.932 0.8
1.745 0.923 1.3
1.805 0.914 0.8
1.817 0.908 0.8
1.745 0.911 1.8
1.673 0.901 1.4
1.685 0.921 1.3
1.614 0.928 1.7
1.637 0.923 1.3
1.602 0.919 1.4
1.566 0.926 1.3
1.554 0.937 1.8
1.637 0.936 0.1
1.566 0.944 0.8
1.626 0.942 1.3
1.697 0.940 0.8
1.554 0.911 0.0
1.506 0.913 0.8
1.447 0.916 1.8
1.470 0.924 1.3
1.423 0.919 0.8
1.399 0.911 1.3
1.363 0.906 1.8
1.328 0.910 1.3
1.280 0.909 1.8
1.268 0.905 1.9
1.209 0.902 1.3
1.137 0.902 1.3
1.089 0.905 1.9
1.089 0.911 1.3
1.185 0.911 1.9
1.173 0.916 1.3
1.113 0.919 0.8
1.089 0.927 1.6
1.101 0.929 1.3
1.173 0.927 0.0
1.244 0.929 0.0
1.304 0.923 0.0
1.328 0.929 1.3
1.352 0.924 1.3
1.376 0.929 1.7
1.352 0.936 1.8
1.304 0.930 1.6
1.232 0.936 1.8
1.161 0.936 0.8
1.137 0.940 0.8
1.066 0.938 0.0
1.101 0.950 0.8
1.042 0.950 0.0
1.101 0.945 1.3
1.006 0.947 0.8
0.982 0.905 0.8
0.994 0.903 0.1
0.982 0.918 0.8
0.946 0.914 1.2
0.923 0.909 0.8
0.851 0.908 0.1
0.827 0.922 0.8
0.791 0.928 1.6
0.827 0.929 0.8
0.875 0.932 0.8
0.887 0.934 1.6
0.911 0.927 0.1
0.946 0.938 0.0
0.946 0.945 0.0
0.970 0.950 0.7
0.899 0.954 0.0
0.875 0.964 1.8
0.923 0.969 0.0
0.946 0.962 0.1
0.970 0.959 0.8
0.923 0.976 0.0
0.803 0.960 0.0
0.791 0.954 0.7
0.744 0.938 1.6
0.708 0.942 0.0
0.672 0.946 0.8
0.625 0.945 0.7
0.613 0.953 0.7
0.613 0.957 0.0
0.636 0.967 1.2
0.577 0.967 0.8
0.565 0.969 0.0
0.541 0.959 0.0
0.505 0.962 0.6
0.505 0.972 0.8
0.517 0.966 0.0
0.470 0.963 0.4
0.446 0.959 0.1
0.422 0.963 0.0
0.374 0.964 -0.6
0.315 0.964 -0.6
0.338 0.958 0.7
0.398 0.952 0.0
0.434 0.952 0.1
0.482 0.952 0.0
0.422 0.947 0.6
0.458 0.942 0.6
0.446 0.935 0.8
0.470 0.938 0.8
0.517 0.940 0.0
0.482 0.930 0.0
0.565 0.935 0.0
0.601 0.932 0.8
0.613 0.925 0.8
0.541 0.918 1.3
0.613 0.918 1.3
0.696 0.918 0.8
0.696 0.928 0.6
0.756 0.916 0.0
0.684 0.911 0.8
0.732 0.908 0.8
0.577 0.911 0.8
0.517 0.911 0.8
0.458 0.909 0.7
0.446 0.920 0.8
0.374 0.919 1.2
0.386 0.916 1.3
0.362 0.909 1.2
0.279 0.913 0.1
0.303 0.918 0.0
0.315 0.924 0.7
0.291 0.929 0.7
0.362 0.930 0.0
0.243 0.932 0.8
0.231 0.926 0.8
0.172 0.927 -0.8
0.112 0.927 -0.9
0.088 0.934 0.6
0.136 0.932 0.0
0.148 0.919 0.8
0.100 0.918 0.8
0.029 0.926 1.2
0.017 0.918 1.2
0.017 0.916 0.7
0.029 0.909 0.0
0.064 0.908 0.0
0.148 0.908 0.6
0.172 0.904 0.0
0.231 0.905 0.0
0.279 0.905 1.8
0.243 0.903 0.8
0.017 0.903 0.0
0.434 0.902 1.3
0.494 0.902 -0.1
0.565 0.906 1.3
0.625 0.902 0.8
0.827 0.940 0.8
0.780 0.944 0.0
0.875 0.945 0.0
0.148 0.939 -0.6
0.076 0.936 0.0
0.100 0.952 1.2
0.148 0.950 0.0
0.112 0.956 0.0
0.017 0.956 0.0
0.029 0.948 0.0
0.017 0.969 0.0
0.100 0.968 1.2
0.148 0.965 0.8
0.243 0.955 0.0
0.255 0.950 0.7
0.279 0.944 0.8
0.207 0.946 0.0
0.172 0.948 0.0
0.303 0.936 -0.1
0.386 0.938 0.6
0.541 0.972 0.0
0.577 0.976 0.8
0.684 0.974 0.0
0.648 0.972 0.0
0.827 0.971 0.6
0.839 0.963 0.8
0.744 0.964 1.2
0.780 0.967 0.8
}\dataC
\pgfplotsset{
  colormap={nmrad}{rgb255(0cm)=(255,0,0); rgb255(2cm)=(255,145,0); rgb255(4cm)=(255,252,0); rgb255(5.15cm)=(118,118,116); rgb255(6cm)=(10,10,232)},
  myax/.style={
    scale only axis, width=129pt, height=128pt,
    grid=major, grid style={black!18, line width=0.5pt},
    axis line style={black!70}, tick style={black!45},
    point meta min=-4, point meta max=2,
    colormap name=nmrad,
    ylabel style={yshift=-4.5pt},
    xlabel style={yshift=-2pt},
  },
  mysc/.style={scatter, only marks, mark=*, mark size=1.7pt,
    point meta=explicit,
    scatter/use mapped color={draw=mapped color!80!black, fill=mapped color}},
}
\begin{document}
\begin{tikzpicture}
\begin{axis}[myax,
  xmin=0.88, xmax=1.12, ymin=0.88, ymax=1.12,
  xtick={0.9,1,1.1}, ytick={0.9,1,1.1},
  xlabel={Length upper arm $x_1$}, ylabel={Length forearm $x_2$}]
\addplot[mysc] table[x=x,y=y,meta=c] {\dataA};
\end{axis}
\begin{axis}[myax, at={(160.4pt,0pt)},
  xmin=0.88, xmax=1.12, ymin=-0.177, ymax=2.106,
  xtick={0.9,1,1.1}, ytick={0,1,2},
  xlabel={Length forearm $x_2$}, ylabel={Mass forearm $x_4$}]
\addplot[mysc] table[x=x,y=y,meta=c] {\dataB};
\end{axis}
\begin{axis}[myax, at={(328pt,0pt)},
  xmin=-0.193, xmax=2.11, ymin=0.88, ymax=1.12,
  xtick={0,1,2}, ytick={0.9,1,1.1},
  xlabel={Mass forearm $x_4$}, ylabel={Length upper arm $x_1$},
  colorbar,
  colorbar style={at={(1,1)}, anchor=north west, xshift=11pt,
    width=14.8pt, ytick={-4,-2,0,2},
    axis line style={black!70}, tick style={black!45},
    title={[Nm/rad]}, title style={yshift=-1.2pt}}]
\addplot[mysc] table[x=x,y=y,meta=c] {\dataC};
\end{axis}
\draw[draw=none] (current bounding box.south west) -- ++(0pt,-4pt);
\end{tikzpicture}
\end{document}
